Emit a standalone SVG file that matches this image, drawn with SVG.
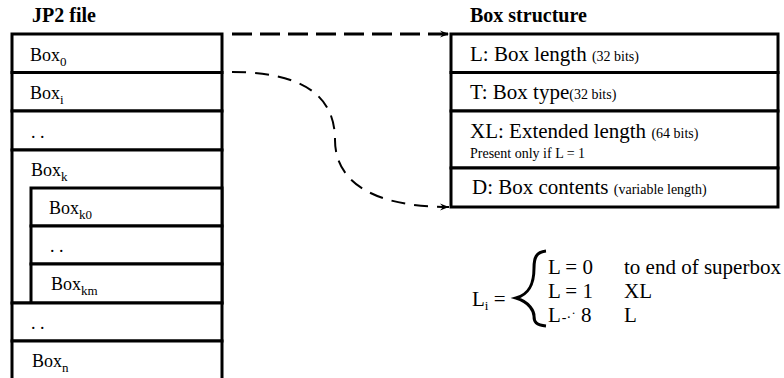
<svg xmlns="http://www.w3.org/2000/svg" width="784" height="378" viewBox="0 0 784 378">
  <style>
    .cell { fill: #fff; stroke: #000; stroke-width: 3; }
    text { font-family: "Liberation Serif", "Times New Roman", "DejaVu Serif", serif; fill: #000; }
    .lbl { font-size: 18px; }
    .sub { font-size: 13px; }
    .big { font-size: 21px; }
    .small { font-size: 14px; }
    .title { font-size: 20px; font-weight: bold; }
    .dash { fill: none; stroke: #000; stroke-width: 3; stroke-dasharray: 20 8; }
    .dash2 { fill: none; stroke: #000; stroke-width: 2; stroke-dasharray: 14 9; }
  </style>
  <defs>
    <marker id="arrow" markerWidth="10" markerHeight="8" refX="9" refY="4" orient="auto" markerUnits="userSpaceOnUse">
      <path d="M0,0.5 L9,4 L0,7.5 L3,4 Z" fill="#000"/>
    </marker>
  </defs>

  <rect width="784" height="378" fill="#fff"/>

  <!-- titles -->
  <text class="title" x="32" y="22">JP2 file</text>
  <text class="title" x="470" y="22">Box structure</text>

  <!-- JP2 file: stacked boxes -->
  <g id="box0">
    <rect class="cell" x="12" y="34" width="210" height="38.5"/>
    <text class="lbl" x="30" y="61">Box<tspan class="sub" dy="5">0</tspan></text>
  </g>
  <g id="boxi">
    <rect class="cell" x="12" y="72.5" width="210" height="38.5"/>
    <text class="lbl" x="30" y="99">Box<tspan class="sub" dy="5">i</tspan></text>
  </g>
  <g id="dots1">
    <rect class="cell" x="12" y="111" width="210" height="39"/>
    <text class="lbl" x="31" y="138">. .</text>
  </g>
  <g id="boxk">
    <path class="cell" d="M12,150 H222 V303 H12 Z"/>
    <text class="lbl" x="31" y="176">Box<tspan class="sub" dy="5">k</tspan></text>
  </g>
  <g id="boxk0">
    <rect class="cell" x="31" y="188" width="191" height="38"/>
    <text class="lbl" x="49" y="214">Box<tspan class="sub" dy="5">k0</tspan></text>
  </g>
  <g id="dots2">
    <rect class="cell" x="31" y="226" width="191" height="38"/>
    <text class="lbl" x="50" y="252">. .</text>
  </g>
  <g id="boxkm">
    <rect class="cell" x="31" y="264" width="191" height="39"/>
    <text class="lbl" x="51" y="290">Box<tspan class="sub" dy="5">km</tspan></text>
  </g>
  <g id="dots3">
    <rect class="cell" x="12" y="303" width="210" height="38"/>
    <text class="lbl" x="31" y="329">. .</text>
  </g>
  <g id="boxn">
    <rect class="cell" x="12" y="341" width="210" height="45"/>
    <text class="lbl" x="32" y="367">Box<tspan class="sub" dy="5">n</tspan></text>
  </g>

  <!-- Box structure fields -->
  <g id="fieldL">
    <rect class="cell" x="451" y="34" width="327" height="38.5"/>
    <text class="big" x="470" y="61">L: Box length <tspan class="small">(32 bits)</tspan></text>
  </g>
  <g id="fieldT">
    <rect class="cell" x="451" y="72.5" width="327" height="38.5"/>
    <text class="big" x="470" y="99">T: Box type<tspan class="small">(32 bits)</tspan></text>
  </g>
  <g id="fieldXL">
    <rect class="cell" x="451" y="111" width="327" height="57"/>
    <text class="big" x="470" y="138">XL: Extended length <tspan class="small">(64 bits)</tspan></text>
    <text class="small" x="470" y="158">Present only if L = 1</text>
  </g>
  <g id="fieldD">
    <rect class="cell" x="451" y="168" width="327" height="39"/>
    <text class="big" x="472" y="194">D: Box contents <tspan class="small">(variable length)</tspan></text>
  </g>

  <!-- length rule -->
  <g id="rule">
    <text class="big" x="472" y="306">L<tspan class="sub" dy="4">i</tspan><tspan dy="-4"> =</tspan></text>
    <path d="M546,251 C536,252 534,258 534,268 C534,283 530,294 516,298 C530,302 534,312 534,316 C534,322 536,325 546,326" fill="none" stroke="#000" stroke-width="3"/>
    <text class="big" x="548" y="274">L = 0</text>
    <text class="big" x="624" y="274">to end of superbox</text>
    <text class="big" x="548" y="298">L = 1</text>
    <text class="big" x="624" y="298">XL</text>
    <text class="big" x="548" y="322">L<tspan class="small" dx="1">-·˙</tspan> 8</text>
    <text class="big" x="624" y="322">L</text>
  </g>

  <!-- connectors -->
  <g id="connectors">
    <path class="dash" d="M232,34 H449" marker-end="url(#arrow)"/>
    <path class="dash2" d="M232,72 C315,72 335,105 335,140 C335,180 370,207 449,207" marker-end="url(#arrow)"/>
  </g>
</svg>
